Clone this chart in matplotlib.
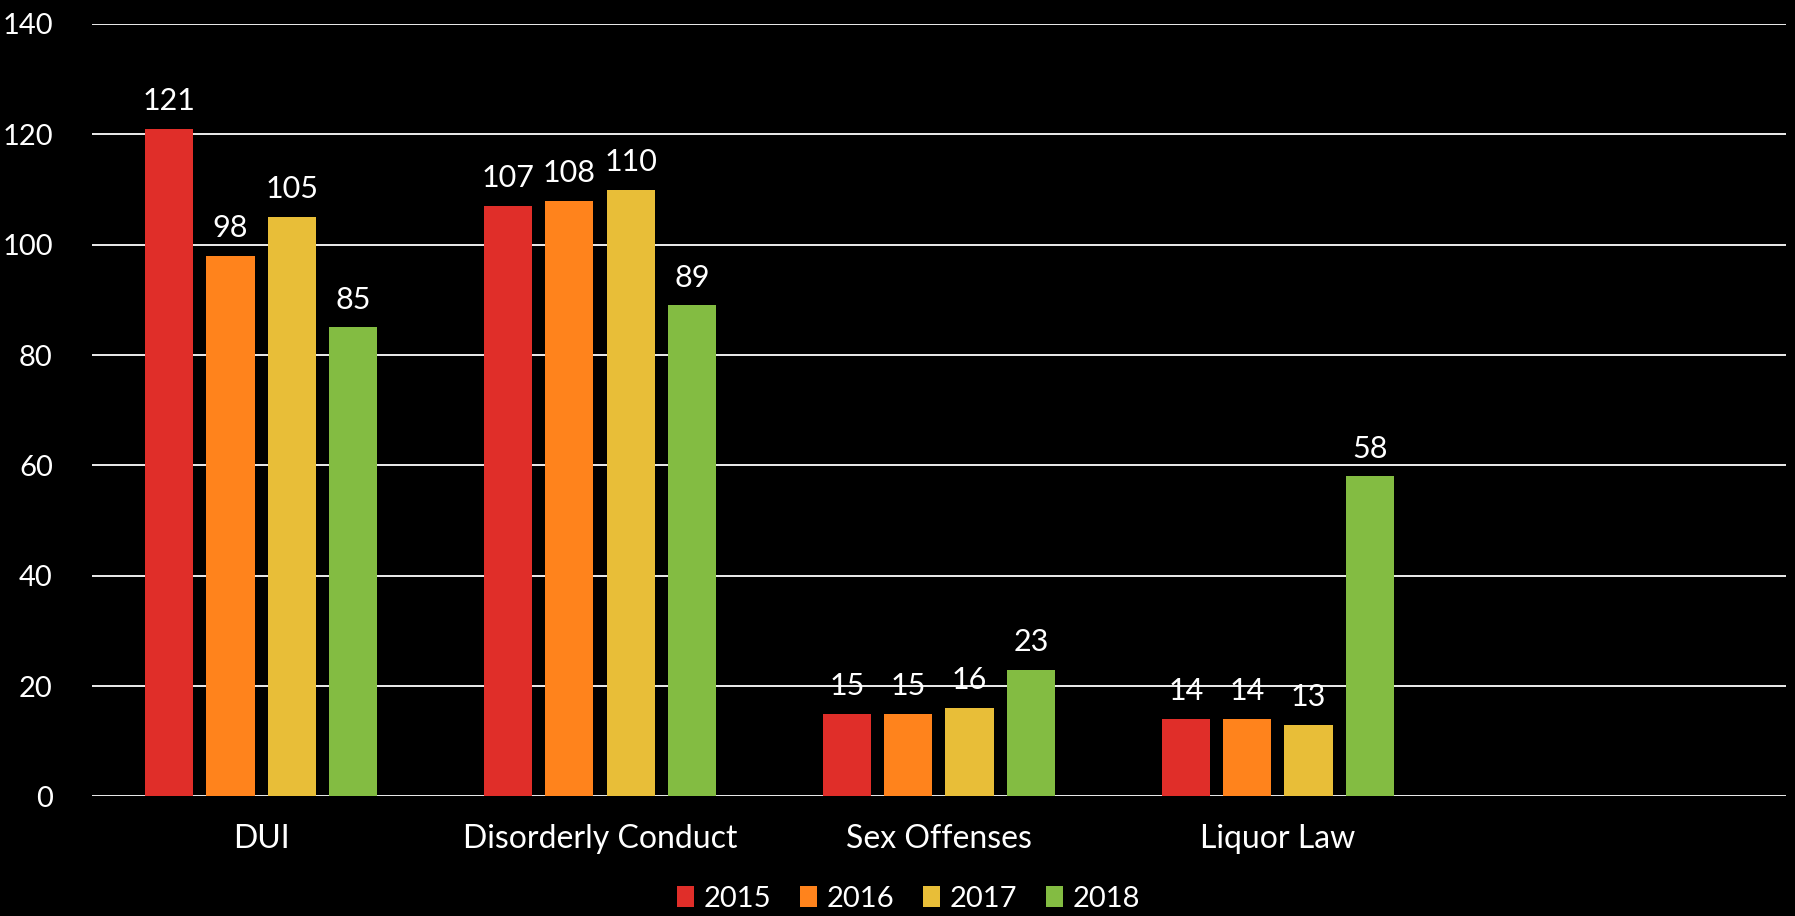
import numpy as np
import matplotlib
matplotlib.use('Agg')
import matplotlib.pyplot as plt

plt.rcParams['font.family'] = ['Lato', 'DejaVu Sans']

##-----data
categories = ['DUI', 'Disorderly Conduct', 'Sex Offenses', 'Liquor Law', '']
years = ['2015', '2016', '2017', '2018']
v2015 = [121, 107, 15, 14]
v2016 = [98, 108, 15, 14]
v2017 = [105, 110, 16, 13]
v2018 = [85, 89, 23, 58]
colors = ['#E02E29', '#FF831C', '#E8BE38', '#83BC42']

series = [v2015, v2016, v2017, v2018]

fig = plt.figure(figsize=(17.95, 9.16), dpi=100, facecolor='black')
ax = fig.add_axes([0.0511, 0.1305, 0.9439, 0.8433])
ax.set_facecolor('black')

x = np.arange(len(v2015))
step = 0.181
width = 0.1425
for i, (vals, col, yr) in enumerate(zip(series, colors, years)):
    pos = x + (i - 1.5) * step
    bars = ax.bar(pos, vals, width, color=col, label=yr, zorder=3)
    for b, v in zip(bars, vals):
        ax.annotate(str(v), (b.get_x() + b.get_width() / 2, v),
                    xytext=(0, 10), textcoords='offset points',
                    ha='center', va='bottom', color='white', fontsize=22)

ax.set_xlim(-0.5, len(categories) - 0.5)
ax.set_ylim(0, 140)
ax.set_yticks(np.arange(0, 141, 20))
ax.set_xticks(np.arange(len(categories)))
ax.set_xticklabels(categories, fontsize=23)
ax.grid(axis='y', color='white', linewidth=1.3, zorder=0)
ax.tick_params(length=0, colors='white')
ax.tick_params(axis='y', pad=28, labelsize=21)
ax.tick_params(axis='x', pad=20)
for s in ax.spines.values():
    s.set_visible(False)

leg = fig.legend(loc='center', bbox_to_anchor=(0.506, 0.019), ncol=4,
                 frameon=False, fontsize=21, handlelength=0.6, handleheight=0.75,
                 handletextpad=0.3, columnspacing=1.0)
for t in leg.get_texts():
    t.set_color('white')

fig.savefig('out.png', dpi=100, facecolor='black')
